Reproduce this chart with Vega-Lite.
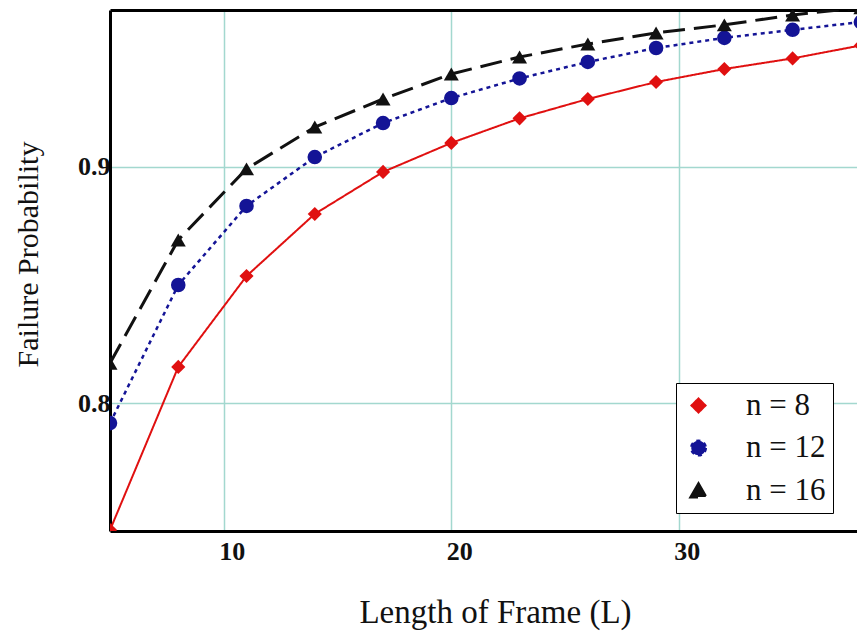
{
  "$schema": "https://vega.github.io/schema/vega-lite/v6.json",
  "autosize": {"type": "none"},
  "padding": {"left": 110, "top": 10, "right": 0, "bottom": 110},
  "width": 747,
  "height": 521,
  "background": "white",
  "config": {
    "view": {"stroke": null},
    "font": "Liberation Serif"
  },
  "data": {
    "values": [
      {"L": 5, "P": 0.7462, "series": "n = 8"},
      {"L": 8, "P": 0.8153, "series": "n = 8"},
      {"L": 11, "P": 0.8538, "series": "n = 8"},
      {"L": 14, "P": 0.8801, "series": "n = 8"},
      {"L": 17, "P": 0.8979, "series": "n = 8"},
      {"L": 20, "P": 0.9102, "series": "n = 8"},
      {"L": 23, "P": 0.9206, "series": "n = 8"},
      {"L": 26, "P": 0.9288, "series": "n = 8"},
      {"L": 29, "P": 0.9360, "series": "n = 8"},
      {"L": 32, "P": 0.9415, "series": "n = 8"},
      {"L": 35, "P": 0.9460, "series": "n = 8"},
      {"L": 38, "P": 0.9515, "series": "n = 8"},
      {"L": 5, "P": 0.7915, "series": "n = 12"},
      {"L": 8, "P": 0.8500, "series": "n = 12"},
      {"L": 11, "P": 0.8835, "series": "n = 12"},
      {"L": 14, "P": 0.9042, "series": "n = 12"},
      {"L": 17, "P": 0.9186, "series": "n = 12"},
      {"L": 20, "P": 0.9292, "series": "n = 12"},
      {"L": 23, "P": 0.9375, "series": "n = 12"},
      {"L": 26, "P": 0.9445, "series": "n = 12"},
      {"L": 29, "P": 0.9504, "series": "n = 12"},
      {"L": 32, "P": 0.9547, "series": "n = 12"},
      {"L": 35, "P": 0.9581, "series": "n = 12"},
      {"L": 38, "P": 0.9614, "series": "n = 12"},
      {"L": 5, "P": 0.8169, "series": "n = 16"},
      {"L": 8, "P": 0.8691, "series": "n = 16"},
      {"L": 11, "P": 0.8992, "series": "n = 16"},
      {"L": 14, "P": 0.9169, "series": "n = 16"},
      {"L": 17, "P": 0.9288, "series": "n = 16"},
      {"L": 20, "P": 0.9394, "series": "n = 16"},
      {"L": 23, "P": 0.9466, "series": "n = 16"},
      {"L": 26, "P": 0.9521, "series": "n = 16"},
      {"L": 29, "P": 0.9568, "series": "n = 16"},
      {"L": 32, "P": 0.9602, "series": "n = 16"},
      {"L": 35, "P": 0.9644, "series": "n = 16"},
      {"L": 38, "P": 0.9675, "series": "n = 16"}
    ]
  },
  "resolve": {"axis": {"x": "independent"}},
  "layer": [
    {
      "mark": {"type": "line", "clip": true},
      "encoding": {
        "x": {
          "field": "L", "type": "quantitative",
          "scale": {"domain": [5, 37.83], "nice": false, "zero": false},
          "axis": {
            "orient": "bottom",
            "values": [10, 20, 30],
            "grid": true, "gridColor": "#a3d8cf", "gridWidth": 1.5,
            "ticks": false,
            "domain": true, "domainColor": "#000000", "domainWidth": 3,
            "labelFont": "Liberation Serif", "labelFontSize": 26, "labelFontWeight": "bold", "labelColor": "#111111",
            "labelPadding": 7, "labelOffset": 8,
            "title": "Length of Frame (L)",
            "titleFont": "Liberation Serif", "titleFontSize": 33, "titleFontWeight": "normal", "titleColor": "#111111",
            "titleX": 385, "titleY": 81, "titleBaseline": "middle", "titleAlign": "center", "titleAnchor": null
          }
        },
        "y": {
          "field": "P", "type": "quantitative",
          "scale": {"domain": [0.7458, 0.9665], "nice": false, "zero": false},
          "axis": {
            "values": [0.8, 0.9],
            "format": ".1f",
            "grid": true, "gridColor": "#a3d8cf", "gridWidth": 1.5,
            "ticks": false,
            "domain": true, "domainColor": "#000000", "domainWidth": 3,
            "labelFont": "Liberation Serif", "labelFontSize": 26, "labelFontWeight": "bold", "labelColor": "#111111",
            "labelPadding": 0,
            "title": "Failure Probability",
            "titleFont": "Liberation Serif", "titleFontSize": 30, "titleFontWeight": "normal", "titleColor": "#111111",
            "titleX": -82, "titleY": 244, "titleAngle": 270, "titleBaseline": "middle", "titleAlign": "center", "titleAnchor": null
          }
        },
        "color": {
          "field": "series", "type": "nominal",
          "scale": {"domain": ["n = 8", "n = 12", "n = 16"], "range": ["#e01010", "#141496", "#111111"]}
        },
        "strokeDash": {
          "field": "series", "type": "nominal",
          "scale": {"domain": ["n = 8", "n = 12", "n = 16"], "range": [[1, 0], [4, 4], [22, 9]]},
          "legend": null
        },
        "strokeWidth": {
          "field": "series", "type": "nominal",
          "scale": {"domain": ["n = 8", "n = 12", "n = 16"], "range": [2, 3, 3]},
          "legend": null
        }
      }
    },
    {
      "mark": {"type": "point", "filled": true, "opacity": 1, "clip": true},
      "encoding": {
        "x": {
          "field": "L", "type": "quantitative",
          "axis": {
            "orient": "top", "labels": false, "ticks": false, "grid": false, "title": null,
            "domain": true, "domainColor": "#000000", "domainWidth": 3
          }
        },
        "y": {"field": "P", "type": "quantitative"},
        "color": {
          "field": "series", "type": "nominal",
          "scale": {"domain": ["n = 8", "n = 12", "n = 16"], "range": ["#e01010", "#141496", "#111111"]},
          "legend": {
            "title": null,
            "orient": "none", "legendX": 566, "legendY": 373,
            "fillColor": "white", "strokeColor": "#000000",
            "padding": 7, "rowPadding": 10.5,
            "symbolSize": 100,
            "labelFont": "Liberation Serif", "labelFontSize": 31, "labelColor": "#111111", "labelOffset": 32,
            "labelExpr": "datum.label + '\u00a0\u00a0'",
            "encode": {
              "legend": {"strokeWidth": {"value": 2.5}},
              "symbols": {
                "shape": {"value": {"expr": "datum.value === 'n = 8' ? 'M-1.6,0L9.2,0M-1.6,0L-0.3,-1.3L1,0L-0.3,1.3ZM2.5,0L3.8,-1.3L5.1,0L3.8,1.3ZM6.6,0L7.9,-1.3L9.2,0L7.9,1.3Z' : datum.value === 'n = 12' ? 'M-1.6,0L9.4,0M-1.6,0A1.5,1.5,0,1,0,1.4,0A1.5,1.5,0,1,0,-1.6,0ZM2.4,0A1.5,1.5,0,1,0,5.4,0A1.5,1.5,0,1,0,2.4,0ZM6.4,0A1.5,1.5,0,1,0,9.4,0A1.5,1.5,0,1,0,6.4,0Z' : 'M-1.6,1L9.2,1M-1.6,1.5L-0.2,-1.5L1.2,1.5ZM2.4,1.5L3.8,-1.5L5.2,1.5ZM6.4,1.5L7.8,-1.5L9.2,1.5Z'"}},
                "size": {"value": 100},
                "fill": {"value": {"expr": "datum.value === 'n = 8' ? '#e01010' : datum.value === 'n = 12' ? '#141496' : '#111111'"}},
                "stroke": {"value": {"expr": "datum.value === 'n = 8' ? '#e01010' : datum.value === 'n = 12' ? '#141496' : '#111111'"}},
                "strokeWidth": {"value": 2},
                "opacity": {"value": 1},
                "fillOpacity": {"value": 1},
                "strokeOpacity": {"value": 1}
              }
            }
          }
        },
        "shape": {
          "field": "series", "type": "nominal",
          "scale": {"domain": ["n = 8", "n = 12", "n = 16"], "range": ["diamond", "circle", "triangle-up"]}
        },
        "size": {
          "field": "series", "type": "nominal",
          "scale": {"domain": ["n = 8", "n = 12", "n = 16"], "range": [200, 225, 260]},
          "legend": null
        }
      }
    }
  ]
}
